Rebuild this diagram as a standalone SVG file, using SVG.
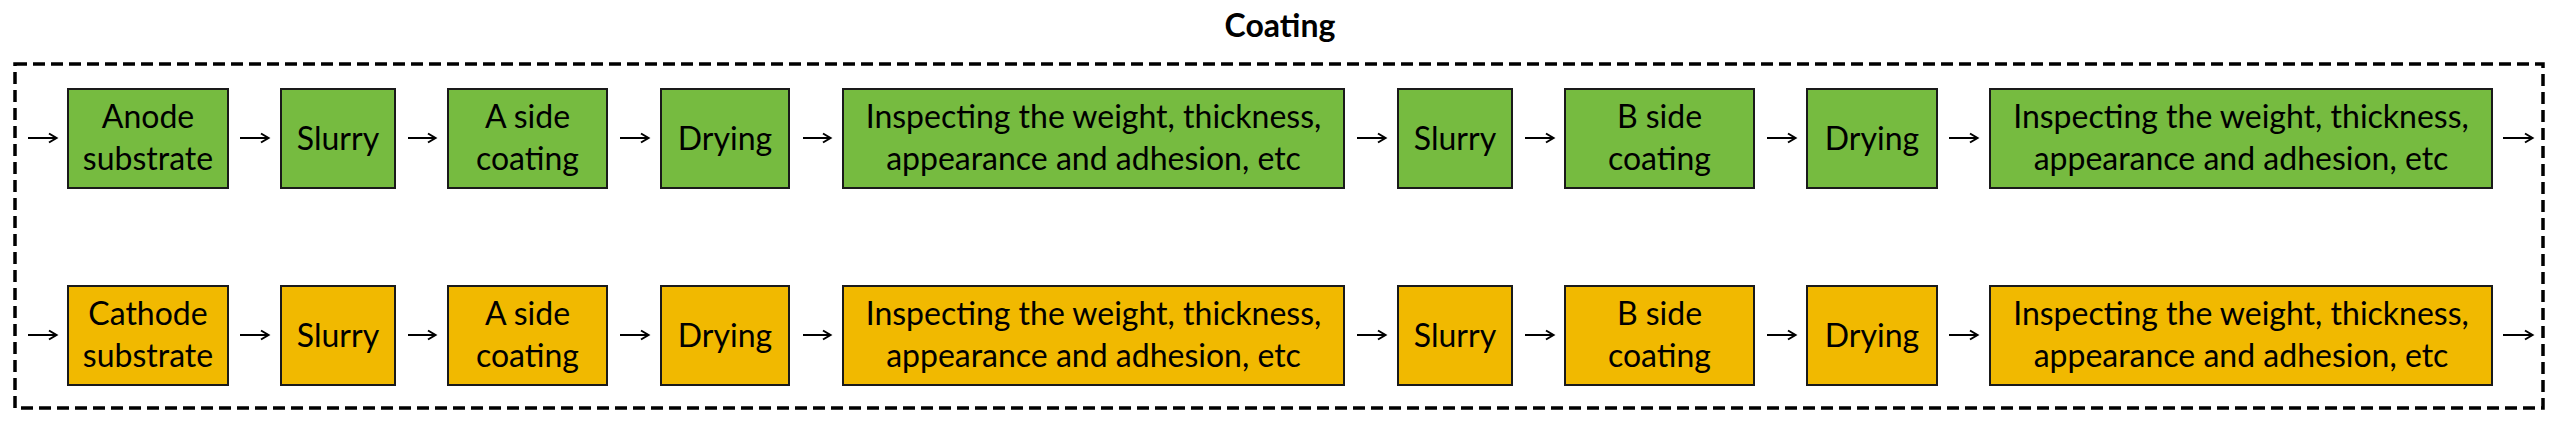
<svg xmlns="http://www.w3.org/2000/svg" width="2560" height="424" viewBox="0 0 2560 424">
<style>
  .g rect { fill: #76BB40; stroke: #1a1a1a; stroke-width: 2; }
  .o rect { fill: #F1B900; stroke: #1a1a1a; stroke-width: 2; }
  text { font-family: Lato, "Open Sans", sans-serif; font-size: 32px; fill: #000; text-anchor: middle; }
  .title { font-weight: bold; font-size: 32px; }
  .conn path { stroke: #000; stroke-width: 2; fill: none; marker-end: url(#ah); }
  .frame { fill: none; stroke: #000; stroke-width: 3.5; stroke-dasharray: 12 6; }
</style>
<defs>
  <marker id="ah" markerWidth="12" markerHeight="12" refX="9" refY="6" orient="auto" markerUnits="userSpaceOnUse">
    <path d="M2,1.5 L9.5,6 L2,10.5" fill="none" stroke="#000" stroke-width="2"/>
  </marker>
</defs>
<rect width="2560" height="424" fill="#fff"/>
<text class="title" x="1280" y="37">Coating</text>
<rect class="frame" x="15" y="64" width="2528" height="344"/>

<g class="conn">
  <path d="M28,138 H56"/><path d="M240,138 H268"/><path d="M408,138 H435"/><path d="M620,138 H648"/><path d="M803,138 H830"/>
  <path d="M1357,138 H1385"/><path d="M1525,138 H1553"/><path d="M1767,138 H1795"/><path d="M1949,138 H1977"/><path d="M2503,138 H2532"/>
  <path d="M28,335 H56"/><path d="M240,335 H268"/><path d="M408,335 H435"/><path d="M620,335 H648"/><path d="M803,335 H830"/>
  <path d="M1357,335 H1385"/><path d="M1525,335 H1553"/><path d="M1767,335 H1795"/><path d="M1949,335 H1977"/><path d="M2503,335 H2532"/>
</g>

<g id="a1" class="g"><rect x="68" y="89" width="160" height="99"/><text x="148" y="128">Anode</text><text x="148" y="170">substrate</text></g>
<g id="a2" class="g"><rect x="281" y="89" width="114" height="99"/><text x="338" y="149.5">Slurry</text></g>
<g id="a3" class="g"><rect x="448" y="89" width="159" height="99"/><text x="527.5" y="128">A side</text><text x="527.5" y="170">coating</text></g>
<g id="a4" class="g"><rect x="661" y="89" width="128" height="99"/><text x="725" y="149.5">Drying</text></g>
<g id="a5" class="g"><rect x="843" y="89" width="501" height="99"/><text x="1093.5" y="128">Inspecting the weight, thickness,</text><text x="1093.5" y="170">appearance and adhesion, etc</text></g>
<g id="a6" class="g"><rect x="1398" y="89" width="114" height="99"/><text x="1455" y="149.5">Slurry</text></g>
<g id="a7" class="g"><rect x="1565" y="89" width="189" height="99"/><text x="1659.5" y="128">B side</text><text x="1659.5" y="170">coating</text></g>
<g id="a8" class="g"><rect x="1807" y="89" width="130" height="99"/><text x="1872" y="149.5">Drying</text></g>
<g id="a9" class="g"><rect x="1990" y="89" width="502" height="99"/><text x="2241" y="128">Inspecting the weight, thickness,</text><text x="2241" y="170">appearance and adhesion, etc</text></g>

<g id="c1" class="o"><rect x="68" y="286" width="160" height="99"/><text x="148" y="325">Cathode</text><text x="148" y="367">substrate</text></g>
<g id="c2" class="o"><rect x="281" y="286" width="114" height="99"/><text x="338" y="346.5">Slurry</text></g>
<g id="c3" class="o"><rect x="448" y="286" width="159" height="99"/><text x="527.5" y="325">A side</text><text x="527.5" y="367">coating</text></g>
<g id="c4" class="o"><rect x="661" y="286" width="128" height="99"/><text x="725" y="346.5">Drying</text></g>
<g id="c5" class="o"><rect x="843" y="286" width="501" height="99"/><text x="1093.5" y="325">Inspecting the weight, thickness,</text><text x="1093.5" y="367">appearance and adhesion, etc</text></g>
<g id="c6" class="o"><rect x="1398" y="286" width="114" height="99"/><text x="1455" y="346.5">Slurry</text></g>
<g id="c7" class="o"><rect x="1565" y="286" width="189" height="99"/><text x="1659.5" y="325">B side</text><text x="1659.5" y="367">coating</text></g>
<g id="c8" class="o"><rect x="1807" y="286" width="130" height="99"/><text x="1872" y="346.5">Drying</text></g>
<g id="c9" class="o"><rect x="1990" y="286" width="502" height="99"/><text x="2241" y="325">Inspecting the weight, thickness,</text><text x="2241" y="367">appearance and adhesion, etc</text></g>
</svg>
